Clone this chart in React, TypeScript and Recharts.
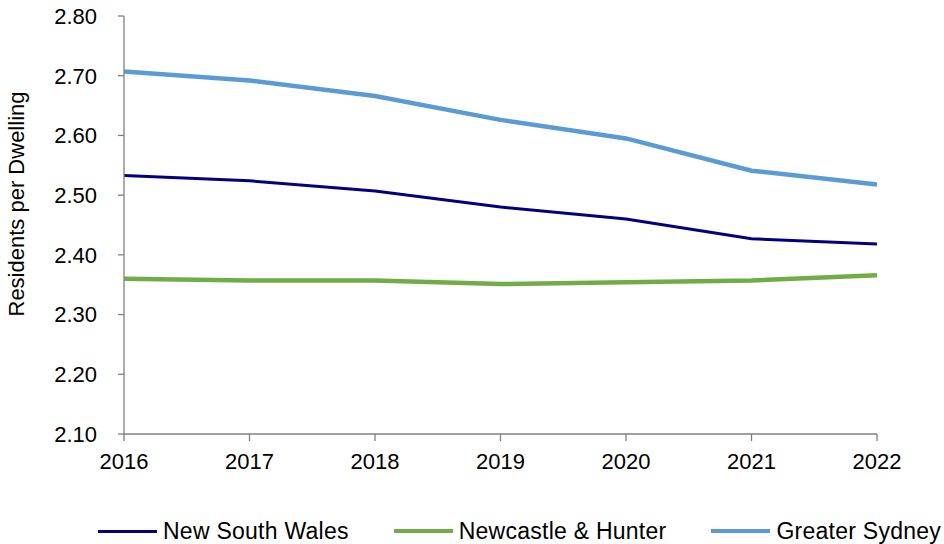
import { LineChart, Line, XAxis, YAxis, Legend } from 'recharts'

// Residents per dwelling
const years = ['2016', '2017', '2018', '2019', '2020', '2021', '2022']
const nswValues = [2.533, 2.524, 2.507, 2.48, 2.46, 2.427, 2.418]
const newcastleValues = [2.36, 2.357, 2.357, 2.351, 2.354, 2.357, 2.366]
const sydneyValues = [2.707, 2.692, 2.666, 2.626, 2.595, 2.541, 2.518]
const yTicks = [2.1, 2.2, 2.3, 2.4, 2.5, 2.6, 2.7, 2.8]

const series = [
  { key: 'nsw', name: 'New South Wales', color: '#000080', width: 3 },
  { key: 'newcastle', name: 'Newcastle & Hunter', color: '#70AD47', width: 4.5 },
  { key: 'sydney', name: 'Greater Sydney', color: '#5B9BD5', width: 4.5 },
]

const data = years.map((year, i) => ({
  year,
  nsw: nswValues[i],
  newcastle: newcastleValues[i],
  sydney: sydneyValues[i],
}))

const FONT = '"Liberation Sans", Arial, sans-serif'
const AXIS_GREY = '#808080'

function LegendRow() {
  return (
    <div style={{ display: 'flex', alignItems: 'center', height: 30, fontFamily: FONT, fontSize: 23, letterSpacing: 0.25, color: '#000' }}>
      {series.map((s, i) => (
        <div key={s.key} style={{ display: 'flex', alignItems: 'center', marginLeft: i === 0 ? 0 : 45 }}>
          <div style={{ width: 59, height: s.width, background: s.color, marginRight: 6 }} />
          <span style={{ whiteSpace: 'nowrap' }}>{s.name}</span>
        </div>
      ))}
    </div>
  )
}

export default function App() {
  return (
    <div style={{ position: 'absolute', left: 0, top: 0, width: 944, height: 544, background: '#fff', fontFamily: FONT }}>
      <LineChart width={944} height={544} data={data} margin={{ top: 16, right: 67, left: 0, bottom: 40 }}>
        <XAxis
          dataKey="year"
          padding={{ left: 0, right: 0 }}
          height={40}
          tickSize={7}
          tickMargin={12}
          axisLine={{ stroke: AXIS_GREY, strokeWidth: 1.3 }}
          tickLine={{ stroke: AXIS_GREY, strokeWidth: 1.3 }}
          tick={{ fill: '#000', fontSize: 22, fontFamily: FONT }}
        />
        <YAxis
          width={124}
          domain={[2.1, 2.8]}
          ticks={yTicks}
          interval={0}
          allowDataOverflow
          tickFormatter={(v: number) => v.toFixed(2)}
          tickSize={6}
          tickMargin={21}
          axisLine={{ stroke: AXIS_GREY, strokeWidth: 1.3 }}
          tickLine={{ stroke: AXIS_GREY, strokeWidth: 1.3 }}
          tick={{ fill: '#000', fontSize: 22, fontFamily: FONT }}
          label={{
            content: () => (
              <text
                x={16}
                y={204}
                transform="rotate(-90 16 204)"
                textAnchor="middle"
                dominantBaseline="central"
                fontSize={22}
                fontFamily={FONT}
                fill="#000"
              >
                Residents per Dwelling
              </text>
            ),
          }}
        />
        <Legend
          verticalAlign="bottom"
          height={30}
          content={() => <LegendRow />}
          wrapperStyle={{ left: 98, top: 516, width: 860 }}
        />
        {series.map((s) => (
          <Line
            key={s.key}
            type="linear"
            dataKey={s.key}
            name={s.name}
            stroke={s.color}
            strokeWidth={s.width}
            dot={false}
            activeDot={false}
            isAnimationActive={false}
          />
        ))}
      </LineChart>
    </div>
  )
}
